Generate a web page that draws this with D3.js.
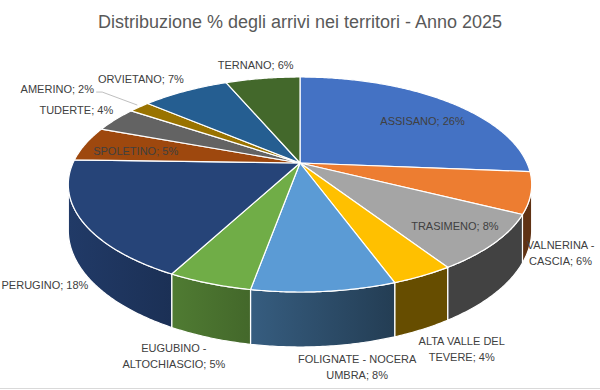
<!DOCTYPE html>
<html>
<head>
<meta charset="utf-8">
<script src="https://cdn.jsdelivr.net/npm/d3@7"></script>
<style>
  body { margin: 0; background: #fff; }
  svg { display: block; }
</style>
</head>
<body>
<div id="chart"></div>
<script>
// data
const title = "Distribuzione % degli arrivi nei territori - Anno 2025";
const categories = ["ASSISANO", "VALNERINA - CASCIA", "TRASIMENO", "ALTA VALLE DEL TEVERE",
  "FOLIGNATE - NOCERA UMBRA", "EUGUBINO - ALTOCHIASCIO", "PERUGINO", "SPOLETINO",
  "TUDERTE", "AMERINO", "ORVIETANO", "TERNANO"];
const shares = [26.3, 6.2, 8.4, 3.6, 8.3, 4.9, 17.8, 5.2, 3.8, 1.8, 7.4, 6.3];
const colors = ["#4472C4", "#ED7D31", "#A5A5A5", "#FFC000", "#5B9BD5", "#70AD47",
  "#264478", "#9E480E", "#636363", "#997300", "#255E91", "#43682B"];

// where each label sits: radius factor, drop by wall height, pixel nudge, wrap width
const labelLayout = [
  {r: 0.72, drop: 0,    dx: 13,  dy: 4},
  {r: 1.12, drop: 1.2,  dx: 0,   dy: 0, wrap: 75},
  {r: 0.8,  drop: 0,    dx: 4,   dy: 1},
  {r: 1.2,  drop: 0.8,  dx: 8,   dy: 0, wrap: 95},
  {r: 1.1,  drop: 1.05, dx: 30,  dy: 0, wrap: 120},
  {r: 1.1,  drop: 1.03, dx: -24, dy: 0, wrap: 100},
  {r: 1.15, drop: 1.1,  dx: 0,   dy: 0},
  {r: 0.75, drop: 0,    dx: -2,  dy: 3},
  {r: 1.15, drop: 0,    dx: -14, dy: -4},
  {r: 1.0,  drop: 0,    dx: -82, dy: -18, leader: true},
  {r: 1.2,  drop: 0,    dx: -25, dy: 0},
  {r: 1.2,  drop: 0,    dx: -1,  dy: 0}
];

const width = 600, height = 390;
const cx = 300, cy = 163;     // pie apex on screen
const A = 227, B = 103.2;     // half axes of the disc before perspective
const K = 0.2;                // perspective strength
const T = 44;                 // wall height

const svg = d3.select("#chart").append("svg")
  .attr("width", width)
  .attr("height", height);

// project a point of the tilted disc (angle clockwise from 12 o'clock)
function proj(phi, r) {
  const u = r * Math.sin(phi), v = -r * Math.cos(phi);
  const D = 1 - K * v;
  return [cx + A * u / D, cy + B * v / D];
}
function depth(phi, r) {
  return 1 + K * r * Math.cos(phi);
}
function arcPoints(a0, a1) {
  const n = Math.max(2, Math.ceil((a1 - a0) / 0.01));
  return d3.range(n + 1).map(i => proj(a0 + (a1 - a0) * i / n, 1));
}

const total = d3.sum(shares);
const pie = d3.pie().sort(null).value(d => d);
const arcs = pie(shares).map((d, i) => Object.assign(d, {i: i}));
const line = d3.line();

// the visible part of the wall lies between the two silhouette points
const wallLo = Math.acos(-K), wallHi = 2 * Math.PI - Math.acos(-K);

const defs = svg.append("defs");
const gx1 = proj(wallHi, 1)[0], gx2 = cx + 0.4 * A;
arcs.forEach(d => {
  const base = d3.rgb(colors[d.i]);
  const shade = f => d3.rgb(base.r * f, base.g * f, base.b * f).formatHex();
  const g = defs.append("linearGradient")
    .attr("id", "wall" + d.i)
    .attr("gradientUnits", "userSpaceOnUse")
    .attr("x1", gx1).attr("x2", gx2).attr("y1", 0).attr("y2", 0);
  g.append("stop").attr("offset", 0).attr("stop-color", shade(0.86));
  g.append("stop").attr("offset", 1).attr("stop-color", shade(0.4));
});

// walls
const walls = svg.append("g");
arcs.forEach(d => {
  const lo = Math.max(d.startAngle, wallLo), hi = Math.min(d.endAngle, wallHi);
  if (lo >= hi) return;
  const top = arcPoints(lo, hi);
  const n = top.length - 1;
  const bottom = top.map((p, k) => {
    const phi = lo + (hi - lo) * k / n;
    return [p[0], p[1] + T / depth(phi, 1)];
  }).reverse();
  walls.append("path")
    .attr("d", line(top.concat(bottom)) + "Z")
    .attr("fill", `url(#wall${d.i})`)
    .attr("stroke", "#fff")
    .attr("stroke-width", 1.2)
    .attr("stroke-linejoin", "round");
});

// top face
const faces = svg.append("g");
arcs.forEach(d => {
  const pts = [[cx, cy]].concat(arcPoints(d.startAngle, d.endAngle));
  faces.append("path")
    .attr("d", line(pts) + "Z")
    .attr("fill", colors[d.i])
    .attr("stroke", "#fff")
    .attr("stroke-width", 1.2)
    .attr("stroke-linejoin", "round");
});

// title
svg.append("text")
  .attr("x", width / 2)
  .attr("y", 28)
  .attr("text-anchor", "middle")
  .attr("font-family", "Liberation Sans, Arial, sans-serif")
  .attr("font-size", 18)
  .attr("fill", "#595959")
  .text(title);

// labels
const lineH = 16;
const labels = svg.append("g")
  .attr("font-family", "Liberation Sans, Arial, sans-serif")
  .attr("font-size", 11)
  .attr("fill", "#404040");

arcs.forEach(d => {
  const lay = labelLayout[d.i];
  const mid = (d.startAngle + d.endAngle) / 2;
  const p = proj(mid, lay.r);
  const x = p[0] + lay.dx;
  const y = p[1] + lay.drop * T / depth(mid, lay.r) + lay.dy;
  const str = categories[d.i] + "; " + Math.round(d.value / total * 100) + "%";

  const t = labels.append("text").attr("text-anchor", "middle");
  // greedy wrap on the label width; a new row starts only when the row has 2+ words
  const words = str.split(" ");
  const rows = [];
  let cur = [];
  const probe = t.append("tspan");
  words.forEach(w => {
    const test = cur.concat([w]).join(" ");
    probe.text(test);
    if (lay.wrap && cur.length > 1 && probe.node().getComputedTextLength() > lay.wrap) {
      rows.push(cur.join(" "));
      cur = [w];
    } else if (lay.wrap && cur.length === 1 && probe.node().getComputedTextLength() > lay.wrap && rows.length === 0) {
      rows.push(cur.join(" "));
      cur = [w];
    } else {
      cur.push(w);
    }
  });
  rows.push(cur.join(" "));
  probe.remove();

  const y0 = y - (rows.length - 1) * lineH / 2 + 4;
  rows.forEach((r, k) => {
    t.append("tspan").attr("x", x).attr("y", y0 + k * lineH).text(r);
  });

  if (lay.leader) {
    const bb = t.node().getBBox();
    const edge = proj(mid, 1);
    const ly = y + 3;
    svg.append("path")
      .attr("d", line([[bb.x + bb.width + 2, ly], [bb.x + bb.width + 8, ly], [edge[0] - 2, edge[1] - 2]]))
      .attr("fill", "none")
      .attr("stroke", "#bfbfbf")
      .attr("stroke-width", 1);
  }
});

// chart border at the bottom
svg.append("line")
  .attr("x1", 0).attr("x2", width)
  .attr("y1", height - 1.5).attr("y2", height - 1.5)
  .attr("stroke", "#d9d9d9")
  .attr("stroke-width", 1);
</script>
</body>
</html>
